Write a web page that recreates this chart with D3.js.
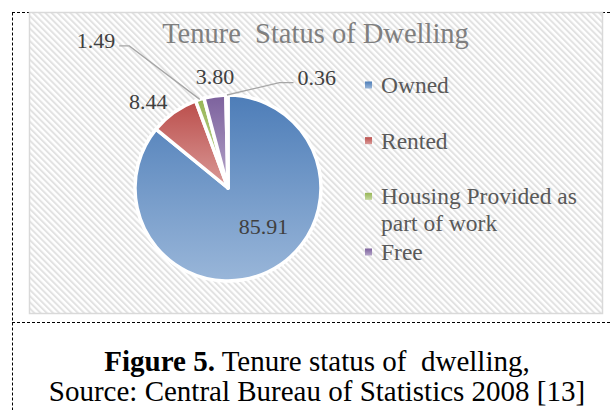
<!DOCTYPE html>
<html>
<head>
<meta charset="utf-8">
<script src="https://cdn.jsdelivr.net/npm/d3@7"></script>
<style>
body { margin: 0; background: #fff; }
text { font-family: "Liberation Serif", "Times New Roman", serif; }
</style>
</head>
<body>
<svg id="chart" width="610" height="410"></svg>
<script>
// data
var categories = ["Owned", "Rented", "Housing Provided as part of work", "Free", ""];
var values = [85.91, 8.44, 1.49, 3.80, 0.36];
var colors = ["#4f81bd", "#c0504d", "#9bbb59", "#8064a2", "#f79646"];

// label placement: [angle (deg, clockwise from top), distance from centre]
var labelPolar = [[137, 52], [317.4, 118], [318.2, 198], [353.3, 112], [38.7, 142]];
var hasLeader = [false, false, true, false, true];

var svg = d3.select("#chart");
var defs = svg.append("defs");

var pat = defs.append("pattern").attr("id", "stripes")
	.attr("patternUnits", "userSpaceOnUse").attr("width", 4.4).attr("height", 4.4)
	.attr("patternTransform", "rotate(-45)");
pat.append("rect").attr("width", 4.4).attr("height", 4.4).attr("fill", "#fff");
pat.append("rect").attr("width", 2).attr("height", 4.4).attr("fill", "#e2e2e2");

colors.forEach(function(c, i) {
	var g = defs.append("linearGradient").attr("id", "grad" + i)
		.attr("x1", 0).attr("y1", 0).attr("x2", 0).attr("y2", 1);
	g.append("stop").attr("offset", 0).attr("stop-color", d3.color(c).darker(0.08));
	g.append("stop").attr("offset", 1).attr("stop-color", d3.interpolateRgb(c, "#fff")(0.42));
});

// outer dashed frame
var dash = "3,2";
svg.append("line").attr("x1", 12.5).attr("y1", 12.5).attr("x2", 12.5).attr("y2", 410)
	.attr("stroke", "#000").attr("stroke-dasharray", dash);
svg.append("line").attr("x1", 12).attr("y1", 12.5).attr("x2", 610).attr("y2", 12.5)
	.attr("stroke", "#000").attr("stroke-dasharray", dash);
svg.append("line").attr("x1", 12).attr("y1", 322.5).attr("x2", 610).attr("y2", 322.5)
	.attr("stroke", "#000").attr("stroke-dasharray", dash);

// chart area
var area = {x: 29, y: 12, w: 573, h: 301};
svg.append("rect").attr("x", area.x + 0.5).attr("y", area.y + 0.5)
	.attr("width", area.w).attr("height", area.h)
	.attr("fill", "url(#stripes)").attr("stroke", "#d9d9d9").attr("stroke-width", 1.5);

svg.append("text").attr("x", area.x + area.w / 2).attr("y", 43)
	.attr("text-anchor", "middle").attr("font-size", 28.5).attr("fill", "#7f7f7f")
	.style("white-space", "pre")
	.text("Tenure  Status of Dwelling");

// pie
var cx = 228, cy = 188, r = 93;
var pie = d3.pie().sort(null).value(function(d) { return d; });
var arcs = pie(values);
var arc = d3.arc().innerRadius(0).outerRadius(r);
var g = svg.append("g").attr("transform", "translate(" + cx + "," + cy + ")");

g.selectAll("path.slice").data(arcs).enter().append("path").attr("class", "slice")
	.attr("d", arc)
	.attr("fill", function(d, i) { return "url(#grad" + i + ")"; })
	.attr("stroke", "#fff").attr("stroke-width", 3.5).attr("stroke-linejoin", "round");

function polar(a, dist) {
	var rad = a * Math.PI / 180;
	return [dist * Math.sin(rad), -dist * Math.cos(rad)];
}

arcs.forEach(function(d, i) {
	var p = polar(labelPolar[i][0], labelPolar[i][1]);
	var t = g.append("text").attr("x", p[0]).attr("y", p[1] + 7.5)
		.attr("text-anchor", "middle").attr("font-size", 22).attr("fill", "#404040")
		.text(values[i].toFixed(2));
	if (!hasLeader[i]) return;
	var w = t.node().getComputedTextLength();
	var mid = (d.startAngle + d.endAngle) / 2 * 180 / Math.PI;
	var s = polar(mid, r);
	var ly = p[1] + 5.5;
	var pts;
	if (p[0] < 0) {
		var ex = p[0] + w / 2 + 4;
		pts = [[ex, ly], [ex + 10, ly], s];
	} else {
		var ex2 = p[0] - w / 2 - 4;
		pts = [[ex2, ly], [ex2 - 14, ly], s];
	}
	g.append("path").attr("d", d3.line()(pts))
		.attr("fill", "none").attr("stroke", "#a6a6a6").attr("stroke-width", 1.3);
});

// legend
var legendCats = categories.filter(function(c) { return c !== ""; });
var ly = d3.scalePoint().domain(legendCats).range([85, 252]);
var lg = svg.append("g");
legendCats.forEach(function(c, i) {
	var y = ly(c);
	lg.append("rect").attr("x", 365).attr("y", y - 3.5).attr("width", 7).attr("height", 7)
		.attr("fill", "url(#grad" + i + ")");
	var t = lg.append("text").attr("x", 381).attr("y", y + 8)
		.attr("font-size", 23.5).attr("fill", "#595959");
	var words = c.split(" "), line = [], tspan = t.append("tspan").attr("x", 381).attr("dy", 0);
	words.forEach(function(wd) {
		line.push(wd);
		tspan.text(line.join(" "));
		if (tspan.node().getComputedTextLength() > 215 && line.length > 1) {
			line.pop();
			tspan.text(line.join(" "));
			line = [wd];
			tspan = t.append("tspan").attr("x", 381).attr("dy", 27).text(wd);
		}
	});
});

// caption
var cap1 = svg.append("text").attr("x", 317).attr("y", 371).attr("text-anchor", "middle")
	.attr("font-size", 29).attr("fill", "#000").style("white-space", "pre");
cap1.append("tspan").attr("font-weight", "bold").text("Figure 5.");
cap1.append("tspan").text(" Tenure status of  dwelling,");
svg.append("text").attr("x", 317).attr("y", 401).attr("text-anchor", "middle")
	.attr("font-size", 29).attr("fill", "#000")
	.text("Source: Central Bureau of Statistics 2008 [13]");
</script>
</body>
</html>
